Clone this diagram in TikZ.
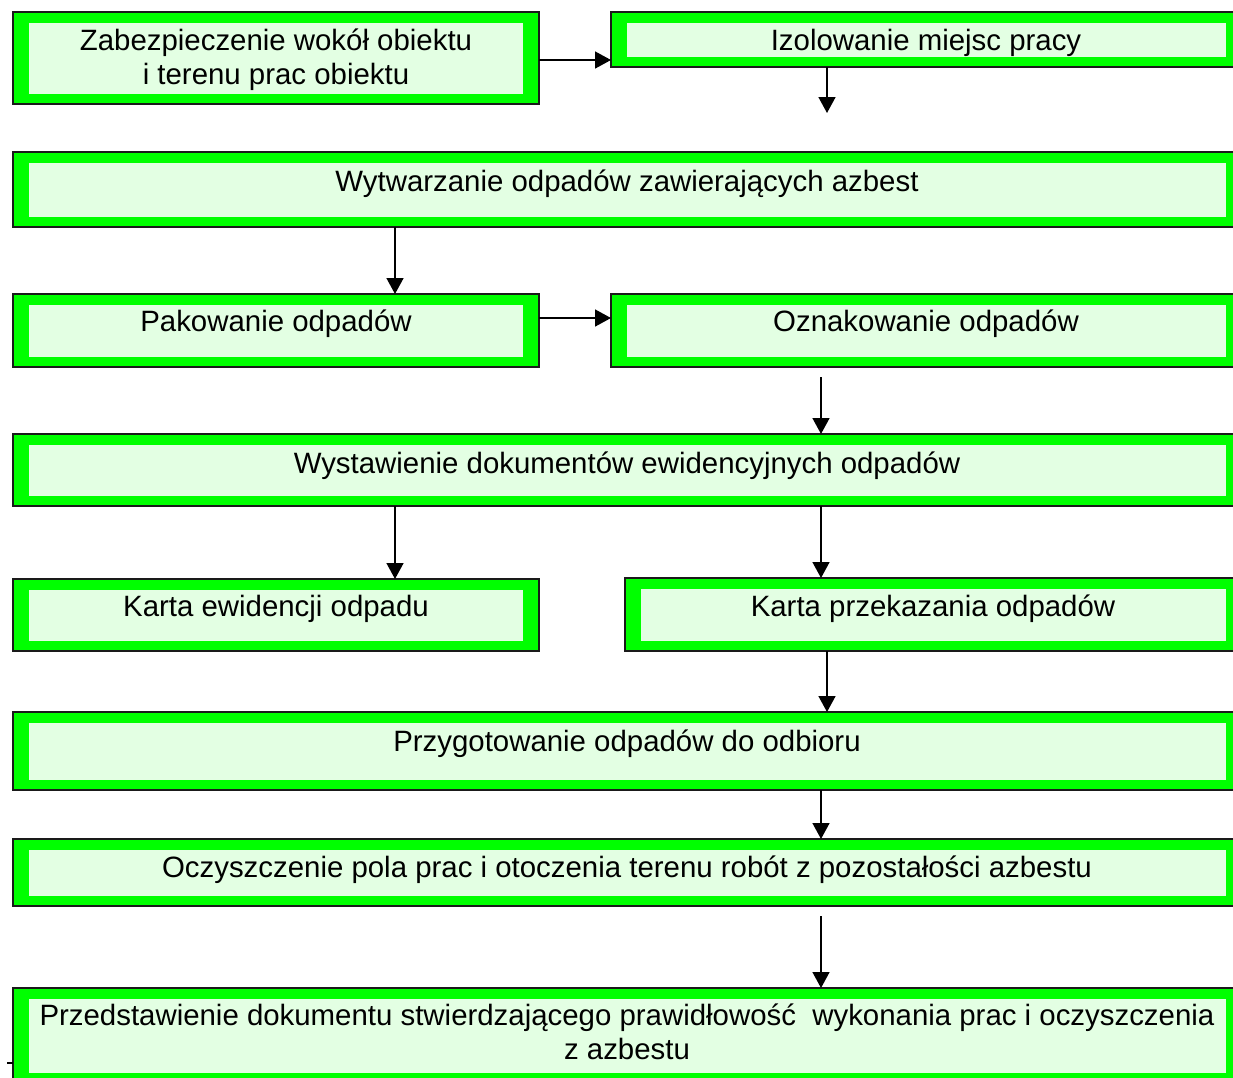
\documentclass[tikz,border=0pt]{standalone}
\usepackage{fontspec}
\setmainfont{Liberation Sans}
\usetikzlibrary{arrows.meta}
\definecolor{bandgreen}{HTML}{00FF00}
\definecolor{paleGreen}{HTML}{E3FFE3}
\definecolor{edgegrey}{HTML}{1A1A1A}
\tikzset{
  flowbox/.style={draw=edgegrey, line width=1.6pt, fill=bandgreen, anchor=north west,
    inner sep=0pt, outer sep=0pt,
    path picture={\fill[paleGreen]
      ([xshift=16pt,yshift=10pt]path picture bounding box.south west) rectangle
      ([xshift=-16pt,yshift=-11pt]path picture bounding box.north east);}},
  txt/.style={anchor=base, inner sep=0pt, font=\fontsize{29.4}{34}\selectfont},
  arr/.style={line width=1.5pt, -{Triangle[width=17pt,length=16pt]}}
}
\begin{document}
\begin{tikzpicture}[x=1pt,y=1pt]
\useasboundingbox (0,0) rectangle (1233,-1077);
\clip (0,0) rectangle (1233,-1077);
% boxes
\node[flowbox, minimum width=526pt, minimum height=92pt] (b1) at (13,-12) {};
\node[flowbox, minimum width=631pt, minimum height=55pt] (b2) at (611,-12) {};
\node[flowbox, minimum width=1229pt, minimum height=75pt] (b3) at (13,-152) {};
\node[flowbox, minimum width=526pt, minimum height=73pt] (b4) at (13,-294) {};
\node[flowbox, minimum width=631pt, minimum height=73pt] (b5) at (611,-294) {};
\node[flowbox, minimum width=1229pt, minimum height=72pt] (b6) at (13,-434) {};
\node[flowbox, minimum width=526pt, minimum height=72pt] (b7) at (13,-579) {};
\node[flowbox, minimum width=617pt, minimum height=73pt] (b8) at (625,-578) {};
\node[flowbox, minimum width=1229pt, minimum height=78pt] (b9) at (13,-712) {};
\node[flowbox, minimum width=1229pt, minimum height=67pt] (b10) at (13,-839) {};
\node[flowbox, minimum width=1229pt, minimum height=95pt] (b11) at (13,-988) {};
% texts
\node[txt] (t1a) at (276,-50) {Zabezpieczenie wokół obiektu};
\node[txt] (t1b) at (276,-84) {i terenu prac obiektu};
\node[txt] (t2) at (926,-50) {Izolowanie miejsc pracy};
\node[txt] (t3) at (627,-191) {Wytwarzanie odpadów zawierających azbest};
\node[txt] (t4) at (276,-331) {Pakowanie odpadów};
\node[txt] (t5) at (926,-331) {Oznakowanie odpadów};
\node[txt] (t6) at (627,-473) {Wystawienie dokumentów ewidencyjnych odpadów};
\node[txt] (t7) at (276,-616) {Karta ewidencji odpadu};
\node[txt] (t8) at (933,-616) {Karta przekazania odpadów};
\node[txt] (t9) at (627,-751) {Przygotowanie odpadów do odbioru};
\node[txt] (t10) at (627,-877) {Oczyszczenie pola prac i otoczenia terenu robót z pozostałości azbestu};
\node[txt] (t11a) at (627,-1025) {Przedstawienie dokumentu stwierdzającego prawidłowość\ \ wykonania prac i oczyszczenia};
\node[txt] (t11b) at (627,-1059) {z azbestu};
% helper coordinates
\coordinate (xL) at (395,0);
\coordinate (xR) at (821,0);
\coordinate (xR2) at (827,0);
\coordinate (yA) at (0,-60);
\coordinate (yB) at (0,-318);
\coordinate (c1) at (827,-113);
\coordinate (s1) at (821,-377);
\coordinate (s2) at (821,-916);
\coordinate (tk) at (7,-1063);
% connectors
\draw[arr] (b1.east |- yA) -- (b2.west |- yA);
\draw[arr] (c1 |- b2.south) -- (c1);
\draw[arr] (b3.south -| xL) -- (b4.north -| xL);
\draw[arr] (b4.east |- yB) -- (b5.west |- yB);
\draw[arr] (s1) -- (s1 |- b6.north);
\draw[arr] (b6.south -| xL) -- (b7.north -| xL);
\draw[arr] (b6.south -| xR) -- (b8.north -| xR);
\draw[arr] (b8.south -| xR2) -- (b9.north -| xR2);
\draw[arr] (b9.south -| xR) -- (b10.north -| xR);
\draw[arr] (s2) -- (s2 |- b11.north);
\draw[line width=1.2pt] (tk) -- (tk -| b11.west);
\end{tikzpicture}
\end{document}
